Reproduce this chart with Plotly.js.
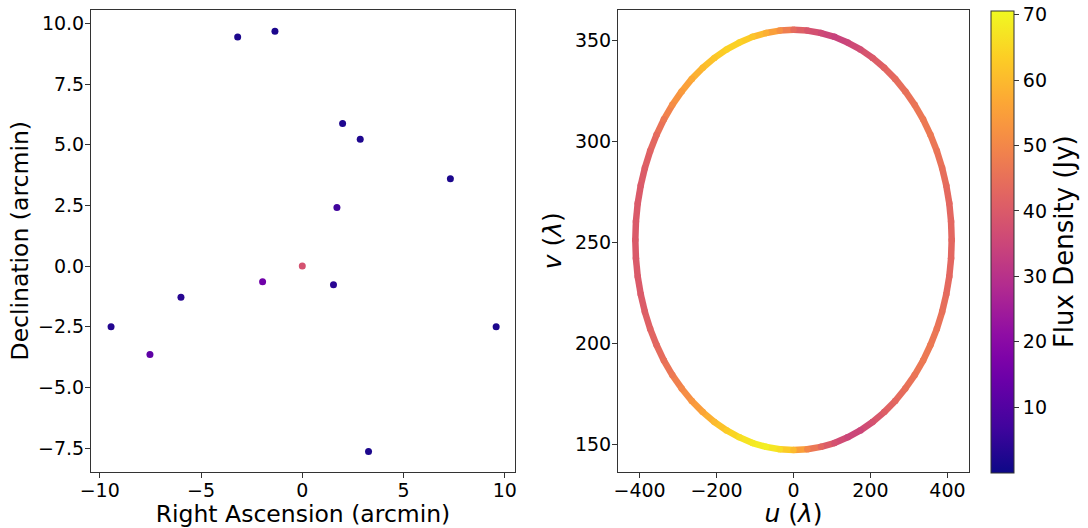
<!DOCTYPE html>
<html>
<head>
<meta charset="utf-8">
<script src="https://cdn.plot.ly/plotly-3.0.1.min.js"></script>
<style>html,body{margin:0;padding:0;background:#fff;}#chart{width:1088px;height:528px;}</style>
</head>
<body>
<div id="chart"></div>
<script>
// Left panel: sources (arcmin) and flux (Jy)
const srcRA   = [-3.19, -1.35, 1.99, 2.86, 7.31, 1.71, 0.00, -1.96, 1.54, -5.99, -9.44, -7.52, 9.57, 3.27];
const srcDec  = [9.44, 9.67, 5.87, 5.23, 3.60, 2.41, 0.00, -0.64, -0.77, -1.28, -2.50, -3.64, -2.50, -7.64];
const srcFlux = [2, 2, 2.5, 2.5, 2, 7, 38, 15, 4, 3.5, 3, 12, 2, 2];

// Right panel: uv track (wavelengths) and flux density along it (Jy)
const trackU = [0, 35.8, 71.4, 106.4, 140.6, 173.7, 205.5, 235.7, 264.2, 290.6, 314.8, 336.7,
  355.9, 372.5, 386.2, 397.0, 404.8, 409.4, 411.0, 409.4, 404.8, 397.0, 386.2, 372.5,
  355.9, 336.7, 314.8, 290.6, 264.2, 235.7, 205.5, 173.7, 140.6, 106.4, 71.4, 35.8,
  0, -35.8, -71.4, -106.4, -140.6, -173.7, -205.5, -235.7, -264.2, -290.6, -314.8, -336.7,
  -355.9, -372.5, -386.2, -397.0, -404.8, -409.4, -411.0, -409.4, -404.8, -397.0, -386.2, -372.5,
  -355.9, -336.7, -314.8, -290.6, -264.2, -235.7, -205.5, -173.7, -140.6, -106.4, -71.4, -35.8];
const trackV = [355.4, 355.0, 353.8, 351.9, 349.1, 345.7, 341.5, 336.6, 331.1, 324.9, 318.3, 311.1,
  303.4, 295.4, 287.0, 278.3, 269.5, 260.5, 251.4, 242.3, 233.3, 224.5, 215.8, 207.4,
  199.4, 191.7, 184.5, 177.9, 171.7, 166.2, 161.3, 157.1, 153.7, 150.9, 149.0, 147.8,
  147.4, 147.8, 149.0, 150.9, 153.7, 157.1, 161.3, 166.2, 171.7, 177.9, 184.5, 191.7,
  199.4, 207.4, 215.8, 224.5, 233.3, 242.3, 251.4, 260.5, 269.5, 278.3, 287.0, 295.4,
  303.4, 311.1, 318.3, 324.9, 331.1, 336.6, 341.5, 345.7, 349.1, 351.9, 353.8, 355.0];
const trackFlux = [44, 39, 36, 34, 35, 37, 40, 42, 44, 45, 46, 47,
  47, 46, 45, 44, 43, 43, 43, 43, 43, 44, 45, 46,
  47, 47, 46, 45, 43, 41, 38, 35, 35, 38, 43, 50,
  60, 66, 69, 68, 66, 63, 60, 56, 53, 50, 47, 45,
  43, 42, 41, 40, 40, 40, 40, 40, 40, 40, 41, 42,
  44, 47, 51, 54, 57, 60, 62, 64, 64, 62, 58, 52];

const colorTicks = [10, 20, 30, 40, 50, 60, 70];
const xTicksLeft = [-10, -5, 0, 5, 10];
const fluxMin = 0.0, fluxMax = 70.6;

// matplotlib "plasma" colour map
const plasma = [
  [0.0, '#0d0887'], [0.1, '#41049d'], [0.2, '#6a00a8'], [0.25, '#7e03a8'], [0.3, '#8f0da4'],
  [0.4, '#b12a90'], [0.5, '#cc4778'], [0.6, '#e16462'], [0.7, '#f2844b'], [0.75, '#f89540'],
  [0.8, '#fca636'], [0.9, '#fcce25'], [1.0, '#f0f921']
];
function hex2rgb(h){return [parseInt(h.substr(1,2),16),parseInt(h.substr(3,2),16),parseInt(h.substr(5,2),16)];}
function plasmaColor(v){
  let t = (v - fluxMin) / (fluxMax - fluxMin);
  t = Math.max(0, Math.min(1, t));
  for (let i = 0; i < plasma.length - 1; i++) {
    const a = plasma[i], b = plasma[i+1];
    if (t >= a[0] && t <= b[0]) {
      const f = (t - a[0]) / (b[0] - a[0]);
      const ca = hex2rgb(a[1]), cb = hex2rgb(b[1]);
      const c = ca.map((x, k) => Math.round(x + (cb[k] - x) * f));
      return 'rgb(' + c.join(',') + ')';
    }
  }
  return plasma[plasma.length-1][1];
}

const FONT = 'DejaVu Sans, Verdana, sans-serif';
const AX = '#333333';
const LW = 6.5;
const traces = [];

// uv track drawn as coloured segments
const n = trackU.length;
for (let i = 0; i < n; i++) {
  const j = (i + 1) % n;
  traces.push({
    type: 'scatter', mode: 'lines', xaxis: 'x2', yaxis: 'y2',
    x: [trackU[i], trackU[j]], y: [trackV[i], trackV[j]],
    line: {color: plasmaColor((trackFlux[i] + trackFlux[j]) / 2), width: LW},
    hoverinfo: 'skip', showlegend: false
  });
}
// round joints at every track sample
traces.push({
  type: 'scatter', mode: 'markers', xaxis: 'x2', yaxis: 'y2',
  x: trackU, y: trackV,
  marker: {size: LW, color: trackFlux.map(plasmaColor), line: {width: 0}},
  hoverinfo: 'skip', showlegend: false
});

// sources (carry the colour bar)
traces.push({
  type: 'scatter', mode: 'markers', xaxis: 'x', yaxis: 'y',
  x: srcRA, y: srcDec,
  marker: {
    size: 7, color: srcFlux, colorscale: plasma, cmin: fluxMin, cmax: fluxMax,
    line: {width: 0},
    showscale: true,
    colorbar: {
      x: 990.7/1088, xanchor: 'left', xref: 'paper',
      y: 1 - 241.7/528, yanchor: 'middle',
      thicknessmode: 'pixels', thickness: 22.6,
      lenmode: 'pixels', len: 462,
      xpad: 0, ypad: 0,
      outlinewidth: 1, outlinecolor: AX,
      tickvals: colorTicks, ticks: 'outside', ticklen: 5, tickwidth: 1, tickcolor: AX,
      tickfont: {family: FONT, size: 19, color: '#000'},
      title: {text: 'Flux Density (Jy)', side: 'right', font: {family: FONT, size: 26, color: '#000'}}
    }
  },
  showlegend: false
});

const yDom = [1 - 471.5/528, 1 - 10/528];
const common = {
  showline: true, mirror: true, linecolor: AX, linewidth: 1,
  ticks: 'outside', ticklen: 5, tickwidth: 1, tickcolor: AX,
  showgrid: false, zeroline: false,
  tickfont: {family: FONT, size: 19, color: '#000'}
};

const layout = {
  width: 1088, height: 528,
  margin: {l: 0, r: 0, t: 0, b: 0},
  paper_bgcolor: '#fff', plot_bgcolor: '#fff',
  font: {family: FONT, color: '#000'},
  showlegend: false,
  xaxis: Object.assign({}, common, {
    domain: [91/1088, 515/1088], anchor: 'y', range: [-10.43, 10.5],
    tickvals: xTicksLeft, ticklabelstandoff: -3,
    title: {text: 'Right Ascension (arcmin)', font: {family: FONT, size: 23.5}, standoff: 0}
  }),
  yaxis: Object.assign({}, common, {
    domain: yDom, anchor: 'x', range: [-8.46, 10.55],
    tick0: 0, dtick: 2.5, tickformat: '.1f', ticklabelstandoff: -3,
    title: {text: 'Declination (arcmin)', font: {family: FONT, size: 23.5}, standoff: 2}
  }),
  xaxis2: Object.assign({}, common, {
    domain: [618/1088, 969/1088], anchor: 'y2', range: [-456, 456],
    tick0: 0, dtick: 200, ticklabelstandoff: -3,
    title: {text: '<i>u</i> (<i>λ</i>)', font: {family: FONT, size: 25}, standoff: 0}
  }),
  yaxis2: Object.assign({}, common, {
    domain: yDom, anchor: 'x2', range: [136.8, 365.2],
    tick0: 0, dtick: 50, ticklabelstandoff: -3,
    title: {text: '<i>v</i> (<i>λ</i>)', font: {family: FONT, size: 25}, standoff: 6}
  })
};

Plotly.newPlot('chart', traces, layout, {displayModeBar: false, staticPlot: true});
</script>
</body>
</html>
